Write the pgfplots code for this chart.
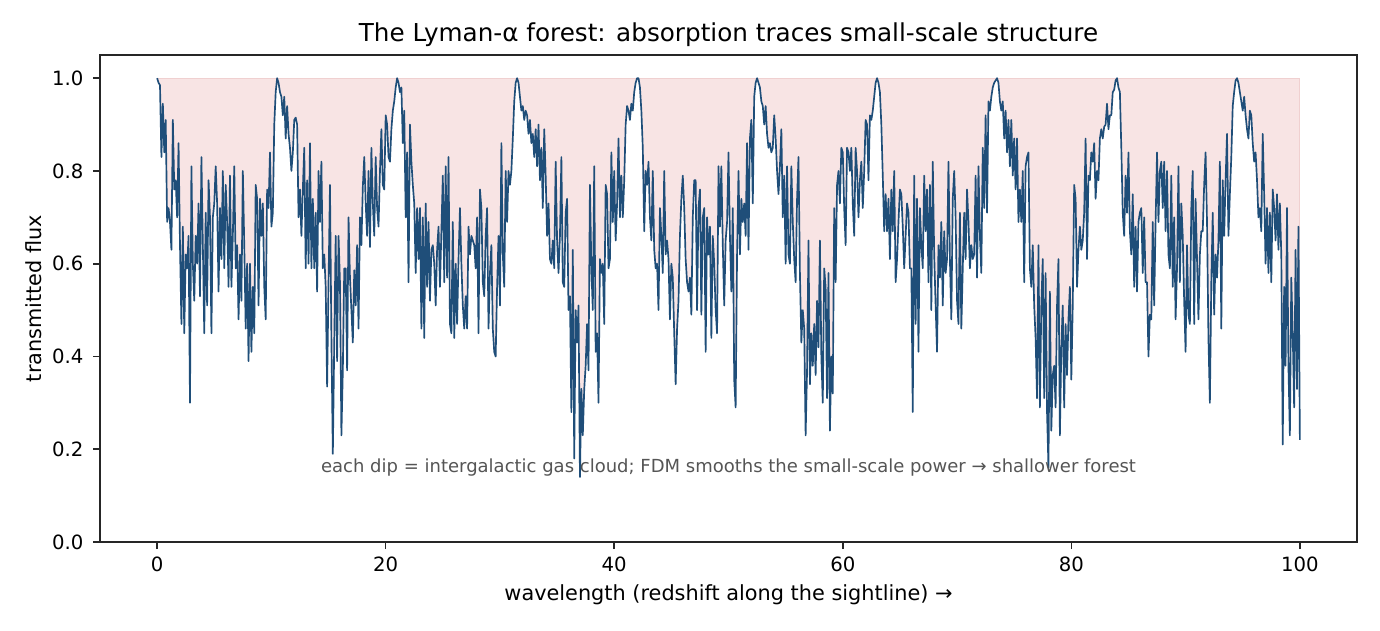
\documentclass[border=0pt]{standalone}
\usepackage{fontspec}
\setmainfont{DejaVu Sans}
\usepackage{pgfplots}
\usepackage{pgfplotstable}
\pgfplotsset{compat=1.18}
\definecolor{fluxline}{RGB}{31,78,121}
\definecolor{fillpink}{RGB}{248,228,228}
\definecolor{edgepink}{RGB}{240,208,208}
\definecolor{annot}{RGB}{85,85,85}
\definecolor{axisblack}{RGB}{38,38,38}

\pgfplotstableread{
x y
0 1.00
0.125 0.99
0.25 0.985
0.375 0.83
0.5 0.945
0.625 0.84
0.75 0.91
0.875 0.69
1 0.72
1.125 0.69
1.25 0.63
1.375 0.91
1.5 0.76
1.625 0.78
1.75 0.70
1.875 0.86
2 0.64
2.125 0.47
2.25 0.68
2.375 0.45
2.5 0.62
2.625 0.59
2.75 0.66
2.875 0.30
3 0.81
3.125 0.60
3.25 0.52
3.375 0.66
3.5 0.60
3.625 0.73
3.75 0.53
3.875 0.83
4 0.64
4.125 0.45
4.25 0.71
4.375 0.51
4.5 0.78
4.625 0.70
4.75 0.45
4.875 0.70
5 0.73
5.125 0.81
5.25 0.73
5.375 0.54
5.5 0.72
5.625 0.61
5.75 0.80
5.875 0.59
6 0.77
6.125 0.69
6.25 0.55
6.375 0.79
6.5 0.55
6.625 0.66
6.75 0.81
6.875 0.59
7 0.64
7.125 0.48
7.25 0.62
7.375 0.52
7.5 0.80
7.625 0.64
7.75 0.46
7.875 0.60
8 0.39
8.125 0.60
8.25 0.41
8.375 0.55
8.5 0.45
8.625 0.77
8.75 0.74
8.875 0.51
9 0.74
9.125 0.66
9.25 0.73
9.375 0.55
9.5 0.48
9.625 0.76
9.75 0.72
9.875 0.84
10 0.68
10.125 0.71
10.25 0.90
10.375 0.97
10.5 1.00
10.625 0.99
10.75 0.97
10.875 0.96
11 0.92
11.125 0.96
11.25 0.87
11.375 0.94
11.5 0.88
11.625 0.85
11.75 0.80
11.875 0.84
12 0.91
12.125 0.915
12.25 0.90
12.375 0.70
12.5 0.76
12.625 0.66
12.75 0.76
12.875 0.85
13 0.59
13.125 0.78
13.25 0.60
13.375 0.86
13.5 0.59
13.625 0.74
13.75 0.59
13.875 0.71
14 0.54
14.125 0.80
14.25 0.69
14.375 0.82
14.5 0.59
14.625 0.62
14.75 0.55
14.875 0.335
15 0.56
15.125 0.77
15.25 0.44
15.375 0.19
15.5 0.43
15.625 0.66
15.75 0.39
15.875 0.66
16 0.56
16.125 0.23
16.25 0.37
16.375 0.59
16.5 0.59
16.625 0.37
16.75 0.70
16.875 0.57
17 0.50
17.125 0.43
17.25 0.586
17.375 0.51
17.5 0.64
17.625 0.46
17.75 0.70
17.875 0.64
18 0.766
18.125 0.83
18.25 0.73
18.375 0.66
18.5 0.80
18.625 0.636
18.75 0.85
18.875 0.73
19 0.66
19.125 0.83
19.25 0.72
19.375 0.68
19.5 0.80
19.625 0.89
19.75 0.77
19.875 0.76
20 0.92
20.125 0.90
20.25 0.83
20.375 0.82
20.5 0.89
20.625 0.93
20.75 0.95
20.875 0.98
21 1.00
21.125 0.99
21.25 0.97
21.375 0.98
21.5 0.86
21.625 0.93
21.75 0.70
21.875 0.84
22 0.56
22.125 0.90
22.25 0.82
22.375 0.77
22.5 0.73
22.625 0.58
22.75 0.72
22.875 0.61
23 0.72
23.125 0.46
23.25 0.70
23.375 0.44
23.5 0.73
23.625 0.55
23.75 0.69
23.875 0.52
24 0.63
24.125 0.64
24.25 0.60
24.375 0.51
24.5 0.63
24.625 0.68
24.75 0.55
24.875 0.67
25 0.79
25.125 0.56
25.25 0.81
25.375 0.57
25.5 0.83
25.625 0.47
25.75 0.45
25.875 0.69
26 0.44
26.125 0.60
26.25 0.47
26.375 0.61
26.5 0.72
26.625 0.60
26.75 0.51
26.875 0.46
27 0.53
27.125 0.46
27.25 0.68
27.375 0.62
27.5 0.66
27.625 0.65
27.75 0.64
27.875 0.59
28 0.70
28.125 0.45
28.25 0.76
28.375 0.72
28.5 0.56
28.625 0.53
28.75 0.66
28.875 0.72
29 0.46
29.125 0.58
29.25 0.64
29.375 0.46
29.5 0.41
29.625 0.40
29.75 0.55
29.875 0.66
30 0.51
30.125 0.86
30.25 0.62
30.375 0.55
30.5 0.80
30.625 0.69
30.75 0.80
30.875 0.77
31 0.80
31.125 0.87
31.25 0.95
31.375 0.99
31.5 1.00
31.625 0.99
31.75 0.96
31.875 0.93
32 0.94
32.125 0.91
32.25 0.93
32.375 0.92
32.5 0.88
32.625 0.91
32.75 0.86
32.875 0.88
33 0.83
33.125 0.89
33.25 0.81
33.375 0.90
33.5 0.78
33.625 0.85
33.75 0.72
33.875 0.89
34 0.79
34.125 0.66
34.25 0.73
34.375 0.61
34.5 0.60
34.625 0.65
34.75 0.59
34.875 0.82
35 0.65
35.125 0.58
35.25 0.66
35.375 0.83
35.5 0.56
35.625 0.55
35.75 0.71
35.875 0.74
36 0.50
36.125 0.53
36.25 0.28
36.375 0.63
36.5 0.18
36.625 0.50
36.75 0.43
36.875 0.51
37 0.14
37.125 0.33
37.25 0.23
37.375 0.33
37.5 0.38
37.625 0.47
37.75 0.37
37.875 0.77
38 0.59
38.125 0.50
38.25 0.81
38.375 0.41
38.5 0.45
38.625 0.30
38.75 0.61
38.875 0.58
39 0.60
39.125 0.47
39.25 0.77
39.375 0.75
39.5 0.59
39.625 0.61
39.75 0.84
39.875 0.69
40 0.80
40.125 0.65
40.25 0.73
40.375 0.87
40.5 0.70
40.625 0.79
40.75 0.70
40.875 0.78
41 0.90
41.125 0.94
41.25 0.93
41.375 0.91
41.5 0.945
41.625 0.93
41.75 0.97
41.875 0.99
42 1.00
42.125 1.00
42.25 0.98
42.375 0.93
42.5 0.85
42.625 0.67
42.75 0.80
42.875 0.77
43 0.82
43.125 0.70
43.25 0.65
43.375 0.80
43.5 0.63
43.625 0.59
43.75 0.60
43.875 0.50
44 0.72
44.125 0.66
44.25 0.58
44.375 0.80
44.5 0.62
44.625 0.65
44.75 0.61
44.875 0.48
45 0.60
45.125 0.57
45.25 0.45
45.375 0.34
45.5 0.46
45.625 0.52
45.75 0.66
45.875 0.74
46 0.79
46.125 0.72
46.25 0.61
46.375 0.56
46.5 0.54
46.625 0.57
46.75 0.49
46.875 0.70
47 0.78
47.125 0.78
47.25 0.50
47.375 0.72
47.5 0.76
47.625 0.49
47.75 0.70
47.875 0.72
48 0.41
48.125 0.70
48.25 0.62
48.375 0.68
48.5 0.44
48.625 0.66
48.75 0.60
48.875 0.50
49 0.45
49.125 0.81
49.25 0.68
49.375 0.81
49.5 0.64
49.625 0.51
49.75 0.65
49.875 0.69
50 0.84
50.125 0.66
50.25 0.54
50.375 0.72
50.5 0.35
50.625 0.29
50.75 0.62
50.875 0.80
51 0.62
51.125 0.74
51.25 0.69
51.375 0.73
51.5 0.66
51.625 0.86
51.75 0.63
51.875 0.87
52 0.91
52.125 0.73
52.25 0.96
52.375 0.99
52.5 1.00
52.625 0.99
52.75 0.98
52.875 0.95
53 0.94
53.125 0.90
53.25 0.94
53.375 0.88
53.5 0.85
53.625 0.86
53.75 0.84
53.875 0.85
54 0.92
54.125 0.87
54.25 0.80
54.375 0.75
54.5 0.81
54.625 0.89
54.75 0.70
54.875 0.79
55 0.60
55.125 0.81
55.25 0.62
55.375 0.60
55.5 0.81
55.625 0.69
55.75 0.61
55.875 0.56
56 0.74
56.125 0.83
56.25 0.58
56.375 0.43
56.5 0.50
56.625 0.46
56.75 0.23
56.875 0.37
57 0.65
57.125 0.34
57.25 0.45
57.375 0.38
57.5 0.47
57.625 0.36
57.75 0.52
57.875 0.42
58 0.65
58.125 0.40
58.25 0.30
58.375 0.59
58.5 0.55
58.625 0.31
58.75 0.58
58.875 0.24
59 0.40
59.125 0.32
59.25 0.72
59.375 0.56
59.5 0.77
59.625 0.80
59.75 0.73
59.875 0.85
60 0.84
60.125 0.72
60.25 0.64
60.375 0.85
60.5 0.84
60.625 0.80
60.75 0.85
60.875 0.73
61 0.66
61.125 0.85
61.25 0.80
61.375 0.70
61.5 0.78
61.625 0.82
61.75 0.72
61.875 0.80
62 0.91
62.125 0.90
62.25 0.78
62.375 0.92
62.5 0.91
62.625 0.93
62.75 0.96
62.875 0.99
63 1.00
63.125 0.99
63.25 0.97
63.375 0.90
63.5 0.79
63.625 0.67
63.75 0.75
63.875 0.67
64 0.74
64.125 0.61
64.25 0.76
64.375 0.67
64.5 0.80
64.625 0.56
64.75 0.61
64.875 0.69
65 0.76
65.125 0.75
65.25 0.68
65.375 0.59
65.5 0.66
65.625 0.73
65.75 0.71
65.875 0.59
66 0.59
66.125 0.28
66.25 0.79
66.375 0.47
66.5 0.74
66.625 0.41
66.75 0.72
66.875 0.64
67 0.59
67.125 0.79
67.25 0.67
67.375 0.76
67.5 0.56
67.625 0.77
67.75 0.50
67.875 0.82
68 0.62
68.125 0.51
68.25 0.41
68.375 0.64
68.5 0.57
68.625 0.69
68.75 0.51
68.875 0.67
69 0.58
69.125 0.61
69.25 0.82
69.375 0.61
69.5 0.48
69.625 0.74
69.75 0.80
69.875 0.70
70 0.52
70.125 0.47
70.25 0.71
70.375 0.46
70.5 0.59
70.625 0.71
70.75 0.61
70.875 0.76
71 0.69
71.125 0.59
71.25 0.64
71.375 0.61
71.5 0.62
71.625 0.79
71.75 0.57
71.875 0.81
72 0.66
72.125 0.58
72.25 0.85
72.375 0.72
72.5 0.92
72.625 0.71
72.75 0.95
72.875 0.93
73 0.96
73.125 0.98
73.25 0.99
73.375 0.995
73.5 1.00
73.625 0.99
73.75 0.95
73.875 0.93
74 0.95
74.125 0.87
74.25 0.93
74.375 0.84
74.5 0.91
74.625 0.81
74.75 0.91
74.875 0.79
75 0.87
75.125 0.76
75.25 0.87
75.375 0.69
75.5 0.76
75.625 0.69
75.75 0.80
75.875 0.56
76 0.81
76.125 0.83
76.25 0.84
76.375 0.59
76.5 0.55
76.625 0.64
76.75 0.51
76.875 0.44
77 0.31
77.125 0.64
77.25 0.29
77.375 0.51
77.5 0.61
77.625 0.31
77.75 0.58
77.875 0.28
78 0.16
78.125 0.54
78.25 0.24
78.375 0.36
78.5 0.38
78.625 0.29
78.75 0.51
78.875 0.61
79 0.23
79.125 0.42
79.25 0.51
79.375 0.29
79.5 0.47
79.625 0.36
79.75 0.48
79.875 0.55
80 0.35
80.125 0.51
80.25 0.77
80.375 0.74
80.5 0.55
80.625 0.63
80.75 0.68
80.875 0.63
81 0.65
81.125 0.71
81.25 0.87
81.375 0.61
81.5 0.79
81.625 0.78
81.75 0.84
81.875 0.82
82 0.86
82.125 0.74
82.25 0.80
82.375 0.78
82.5 0.87
82.625 0.89
82.75 0.87
82.875 0.895
83 0.90
83.125 0.945
83.25 0.89
83.375 0.92
83.5 0.92
83.625 0.97
83.75 0.975
83.875 0.995
84 1.00
84.125 0.98
84.25 0.97
84.375 0.85
84.5 0.71
84.625 0.66
84.75 0.79
84.875 0.71
85 0.84
85.125 0.67
85.25 0.62
85.375 0.75
85.5 0.55
85.625 0.68
85.75 0.54
85.875 0.69
86 0.71
86.125 0.72
86.25 0.58
86.375 0.70
86.5 0.56
86.625 0.56
86.75 0.40
86.875 0.49
87 0.48
87.125 0.69
87.25 0.51
87.375 0.69
87.5 0.84
87.625 0.69
87.75 0.80
87.875 0.82
88 0.72
88.125 0.82
88.25 0.67
88.375 0.80
88.5 0.62
88.625 0.59
88.75 0.79
88.875 0.55
89 0.70
89.125 0.48
89.25 0.59
89.375 0.81
89.5 0.56
89.625 0.73
89.75 0.66
89.875 0.52
90 0.41
90.125 0.64
90.25 0.49
90.375 0.47
90.5 0.72
90.625 0.80
90.75 0.47
90.875 0.74
91 0.61
91.125 0.48
91.25 0.62
91.375 0.67
91.5 0.67
91.625 0.77
91.75 0.84
91.875 0.69
92 0.44
92.125 0.30
92.25 0.56
92.375 0.71
92.5 0.49
92.625 0.62
92.75 0.57
92.875 0.65
93 0.82
93.125 0.46
93.25 0.78
93.375 0.66
93.5 0.78
93.625 0.88
93.75 0.66
93.875 0.75
94 0.83
94.125 0.94
94.25 0.97
94.375 0.995
94.5 1.00
94.625 0.99
94.75 0.97
94.875 0.95
95 0.93
95.125 0.96
95.25 0.92
95.375 0.89
95.5 0.87
95.625 0.93
95.75 0.92
95.875 0.86
96 0.82
96.125 0.84
96.25 0.78
96.375 0.70
96.5 0.72
96.625 0.67
96.75 0.88
96.875 0.75
97 0.60
97.125 0.72
97.25 0.58
97.375 0.71
97.5 0.56
97.625 0.76
97.75 0.72
97.875 0.65
98 0.75
98.125 0.63
98.25 0.73
98.375 0.62
98.5 0.21
98.625 0.55
98.75 0.38
98.875 0.72
99 0.38
99.125 0.23
99.25 0.57
99.375 0.45
99.5 0.29
99.625 0.63
99.75 0.33
99.875 0.68
100 0.22
}\fluxtable

\begin{document}
\begin{tikzpicture}
\useasboundingbox (-60pt,-52.8pt) rectangle (768pt,325.2pt);
\begin{axis}[
  at={(0,0)}, anchor=south west,
  scale only axis, width=754.2pt, height=292.2pt,
  xmin=-5, xmax=105, ymin=0, ymax=1.05,
  xtick={0,20,40,60,80,100},
  ytick={0,0.2,0.4,0.6,0.8,1.0},
  tick pos=left, tick align=outside,
  major tick length=4.2pt,
  every tick/.style={axisblack, line width=0.96pt},
  axis line style={axisblack, line width=0.96pt},
  axis on top=true,
  /pgf/number format/assume math mode=true,
  ticklabel style={font=\fontsize{11.8}{14}\selectfont, text=black},
  xticklabel style={yshift=-1.2pt},
  yticklabel style={xshift=-2.2pt, /pgf/number format/.cd, fixed, fixed zerofill, precision=1},
  every axis title/.style={at={(axis description cs:0.5,1)}, anchor=base, yshift=8pt, font=\fontsize{14.8}{17}\selectfont},
  title={The Lyman-α forest: absorption traces small-scale structure},
  xlabel={wavelength (redshift along the sightline) →},
  every axis x label/.style={at={(axis description cs:0.5,0)}, anchor=base, yshift=-34.8pt, font=\fontsize{12.5}{15}\selectfont},
  ylabel={transmitted flux},
  every axis y label/.style={at={(axis description cs:-0.0464,0.5)}, anchor=base, rotate=90, font=\fontsize{12.5}{15}\selectfont},
]
\addplot[fill=fillpink, draw=edgepink, line width=0.6pt, forget plot] coordinates {(0,1) (100,1)} \closedcycle;
\addplot[fill=white, draw=none, forget plot] table[x=x, y=y] {\fluxtable} \closedcycle;
\addplot[fluxline, line width=1.0pt, line join=round] table[x=x, y=y] {\fluxtable};
\node[anchor=base, text=annot, font=\fontsize{10.8}{13}\selectfont] at (axis cs:50,0.15) {each dip = intergalactic gas cloud; FDM smooths the small-scale power → shallower forest};
\end{axis}
\end{tikzpicture}
\end{document}
